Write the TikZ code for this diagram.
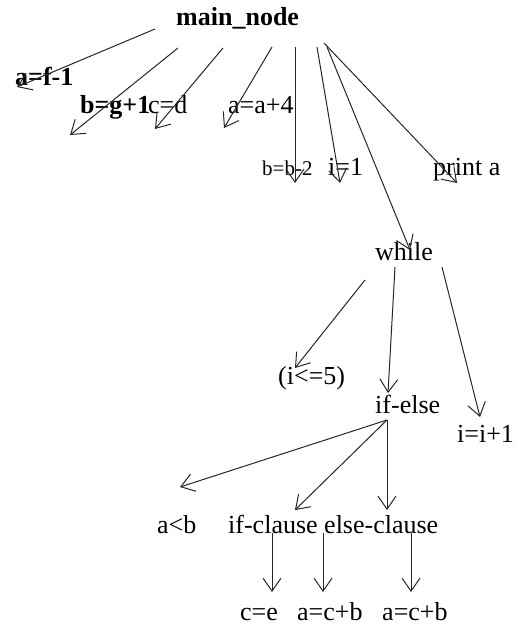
\documentclass[tikz,border=0pt]{standalone}
\usepackage{fontspec}
\setmainfont{Liberation Serif}
\usetikzlibrary{arrows.meta}
\begin{document}
\begin{tikzpicture}[x=1pt,y=-1pt,
  lbl/.style={anchor=base west,inner sep=0pt,font=\fontsize{26}{30}\selectfont},
  blbl/.style={lbl,font=\fontsize{26}{30}\selectfont\bfseries},
  slbl/.style={lbl,font=\fontsize{21}{25}\selectfont},
  edge/.style={draw=black!85,line width=1pt,-{Straight Barb[length=13pt,width=18pt,line width=1pt]}}]
\useasboundingbox (0,0) rectangle (518,628);
% nodes
\node[blbl] (main) at (176,26) {main\_node};
\node[blbl] (afm) at (15,86) {a=f-1};
\node[blbl] (bg) at (80,114) {b=g+1};
\node[lbl] (cd) at (148,114) {c=d};
\node[lbl] (aa4) at (228,114) {a=a+4};
\node[slbl] (bb2) at (262,176) {b=b-2};
\node[lbl] (i1) at (328,176) {i=1};
\node[lbl] (pa) at (433,176) {print a};
\node[lbl] (wh) at (375,260) {while};
\node[lbl] (cond) at (278,384) {(i<=5)};
\node[lbl] (ife) at (375,413) {if-else};
\node[lbl] (inc) at (457,442) {i=i+1};
\node[lbl] (alb) at (157,533) {a<b};
\node[lbl] (ifc) at (228,533) {if-clause};
\node[lbl] (elc) at (324,533) {else-clause};
\node[lbl] (ce) at (240,620) {c=e};
\node[lbl] (acb1) at (297,620) {a=c+b};
\node[lbl] (acb2) at (382,620) {a=c+b};
% connector ends
\coordinate (m1) at (155,29);   \coordinate (t1) at (17,87);
\coordinate (m2) at (178,48);   \coordinate (t2) at (70,135);
\coordinate (m3) at (223,48);   \coordinate (t3) at (155,129);
\coordinate (m4) at (272,47);   \coordinate (t4) at (224,128);
\coordinate (m5) at (295,47);   \coordinate (t5) at (295,183);
\coordinate (m6) at (317,47);   \coordinate (t6) at (340,183);
\coordinate (m7) at (327,47);   \coordinate (t7) at (410,250);
\coordinate (m8) at (324,43);   \coordinate (t8) at (457,183);
\coordinate (w1) at (365,280);  \coordinate (t9) at (295,368);
\coordinate (w2) at (395,267);  \coordinate (t10) at (388,393);
\coordinate (w3) at (442,267);  \coordinate (t11) at (480,417);
\coordinate (e0) at (387,420);
\coordinate (t12) at (180,487);
\coordinate (t13) at (295,510);
\coordinate (t14) at (387,510);
\coordinate (c1) at (272,533);  \coordinate (t15) at (272,592);
\coordinate (c2) at (323,533);  \coordinate (t16) at (323,592);
\coordinate (c3) at (411,533);  \coordinate (t17) at (411,592);
% connectors
\draw[edge] (m1) -- (t1);
\draw[edge] (m2) -- (t2);
\draw[edge] (m3) -- (t3);
\draw[edge] (m4) -- (t4);
\draw[edge] (m5) -- (t5);
\draw[edge] (m6) -- (t6);
\draw[edge] (m7) -- (t7);
\draw[edge] (m8) -- (t8);
\draw[edge] (w1) -- (t9);
\draw[edge] (w2) -- (t10);
\draw[edge] (w3) -- (t11);
\draw[edge] (e0) -- (t12);
\draw[edge] (e0) -- (t13);
\draw[edge] (e0) -- (t14);
\draw[edge] (c1) -- (t15);
\draw[edge] (c2) -- (t16);
\draw[edge] (c3) -- (t17);
\end{tikzpicture}
\end{document}
